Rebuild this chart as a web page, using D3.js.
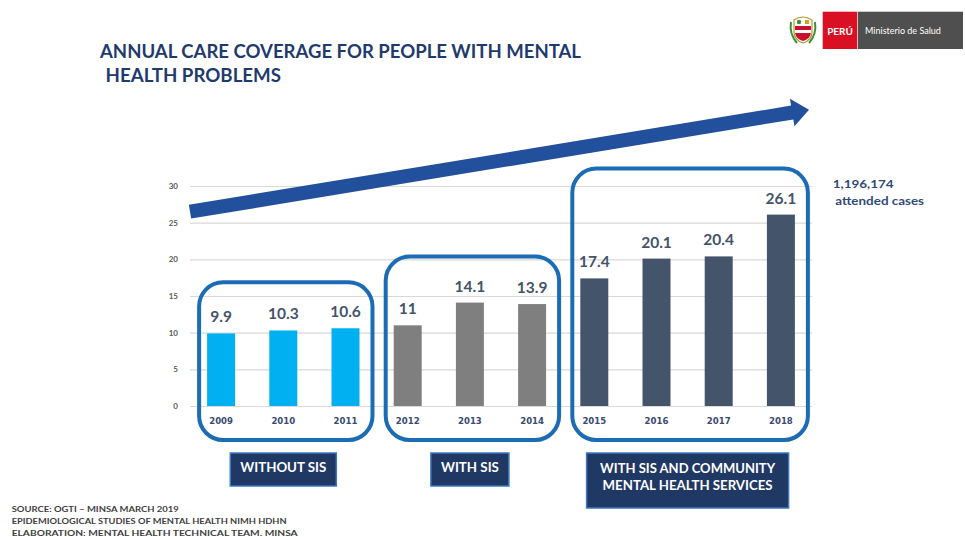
<!DOCTYPE html>
<html><head><meta charset="utf-8">
<script src="https://cdn.jsdelivr.net/npm/d3@7"></script>
<style>html,body{margin:0;padding:0;background:#fff;}svg{display:block;}</style>
</head><body>
<script>
// ---- data ----
const years = ['2009','2010','2011','2012','2013','2014','2015','2016','2017','2018'];
const values = [9.9, 10.3, 10.6, 11, 14.1, 13.9, 17.4, 20.1, 20.4, 26.1];
const valueLabels = ['9.9','10.3','10.6','11','14.1','13.9','17.4','20.1','20.4','26.1'];
const groupOf = [0,0,0,1,1,1,2,2,2,2];
const groupLabels = [['WITHOUT SIS'], ['WITH SIS'], ['WITH SIS AND COMMUNITY','MENTAL HEALTH SERVICES']];
const groupColors = ['#00b0f0', '#7f7f7f', '#44546a'];
const yTicks = [0, 5, 10, 15, 20, 25, 30];
const titleLines = ['ANNUAL CARE COVERAGE FOR PEOPLE WITH MENTAL', ' HEALTH PROBLEMS'];
const sourceLines = ['SOURCE: OGTI \u2013 MINSA MARCH 2019', 'EPIDEMIOLOGICAL STUDIES OF MENTAL HEALTH NIMH HDHN', 'ELABORATION: MENTAL HEALTH TECHNICAL TEAM. MINSA'];
const casesLines = ['1,196,174', ' attended cases'];

const W = 965, H = 537;
const FONT = 'Lato, "Open Sans", sans-serif';
const svg = d3.select('body').append('svg').attr('width', W).attr('height', H);

function fit(sel, w) { sel.attr('textLength', w).attr('lengthAdjust', 'spacingAndGlyphs'); return sel; }

const x = d3.scaleBand().domain(years).range([190, 812]).paddingInner(0.55).paddingOuter(0.275);
const y = d3.scaleLinear().domain([0, 30]).range([406, 186]);

// title
const titleWidths = [481, 174];
const titleX = [100, 101];
const titleY = [57.7, 82];
titleLines.forEach((t, i) => {
  fit(svg.append('text').attr('x', titleX[i]).attr('y', titleY[i])
    .attr('font-family', FONT).attr('font-weight', 700).attr('font-size', 18)
    .attr('fill', '#1f3b6e').style('white-space', 'pre').text(t), titleWidths[i] + (i ? 6 : 0));
});

// gridlines + y axis
const yAxis = d3.axisLeft(y).tickValues(yTicks).tickSize(-(812 - 190)).tickPadding(12);
const ga = svg.append('g').attr('transform', 'translate(190,0)').call(yAxis);
ga.select('.domain').remove();
ga.selectAll('.tick line').attr('stroke', '#d9d9d9').attr('stroke-width', 1.2);
ga.selectAll('.tick text').attr('font-family', FONT).attr('font-weight', 700)
  .attr('font-size', 8).attr('fill', '#595959');

// arrow (decorative trend arrow)
(function () {
  const x0 = 190, y0 = y(26.5), x1 = 809, y1 = y(40.4);
  const dx = x1 - x0, dy = y1 - y0, L = Math.hypot(dx, dy);
  const ux = dx / L, uy = dy / L, nx = -uy, ny = ux;
  const hw = 7, hh = 14, hl = 17;
  const bx = x1 - ux * hl, by = y1 - uy * hl;
  const pts = [
    [x0 + nx * hw, y0 + ny * hw], [bx + nx * hw, by + ny * hw], [bx + nx * hh, by + ny * hh],
    [x1, y1], [bx - nx * hh, by - ny * hh], [bx - nx * hw, by - ny * hw], [x0 - nx * hw, y0 - ny * hw]
  ];
  svg.append('path').attr('d', d3.line()(pts) + 'Z').attr('fill', '#23509c');
})();

// bars
svg.append('g').selectAll('rect').data(values).join('rect')
  .attr('x', (d, i) => x(years[i])).attr('width', x.bandwidth())
  .attr('y', d => y(d)).attr('height', d => y(0) - y(d))
  .attr('fill', (d, i) => groupColors[groupOf[i]]);

// value labels
svg.append('g').selectAll('text').data(values).join('text')
  .attr('x', (d, i) => x(years[i]) + x.bandwidth() / 2)
  .attr('y', d => y(d) - 11)
  .attr('text-anchor', 'middle').attr('font-family', FONT).attr('font-weight', 700)
  .attr('font-size', 15.5).attr('fill', '#44546a')
  .text((d, i) => valueLabels[i]);

// year labels
svg.append('g').selectAll('text').data(years).join('text')
  .attr('x', d => x(d) + x.bandwidth() / 2).attr('y', 423.5)
  .attr('text-anchor', 'middle').attr('font-family', '"Liberation Sans Narrow", "DejaVu Sans Condensed", sans-serif')
  .attr('font-weight', 700).attr('font-size', 9.5).attr('fill', '#3a4a70').text(d => d);

// group boxes
groupLabels.forEach((lines, g) => {
  const idx = groupOf.map((v, i) => v === g ? i : -1).filter(i => i >= 0);
  const first = years[idx[0]], last = years[idx[idx.length - 1]];
  const maxV = d3.max(idx, i => values[i]);
  const left = x(first) - 8, right = x(last) + x.bandwidth() + 13;
  const top = y(maxV) - 46, bottom = 440;
  svg.append('rect').attr('x', left).attr('y', top).attr('width', right - left)
    .attr('height', bottom - top).attr('rx', 24).attr('ry', 24)
    .attr('fill', 'none').attr('stroke', '#1c6cb5').attr('stroke-width', 4);

  // label box below
  const cx = (x(first) + x(last) + x.bandwidth()) / 2;
  const tmp = svg.append('g');
  const texts = lines.map((t, j) => tmp.append('text').attr('x', cx)
    .attr('y', 0).attr('text-anchor', 'middle').attr('font-family', FONT)
    .attr('font-weight', 700).attr('font-size', 13.5).attr('fill', '#fff').text(t));
  const targetW = [[86], [58], [175, 170]][g];
  const tw = d3.max(targetW);
  const bw = tw + (g === 2 ? 27 : 20);
  const bh = 11 + 22 * lines.length;
  const by = 453;
  tmp.insert('rect', 'text').attr('x', cx - bw / 2).attr('y', by).attr('width', bw).attr('height', bh)
    .attr('fill', '#1f3864').attr('stroke', '#3a78c0').attr('stroke-width', 1.5);
  texts.forEach((t, j) => {
    t.attr('y', lines.length === 1 ? by + 19 : by + 20 + 16.7 * j);
    fit(t, targetW[j]);
  });
});

// attended cases annotation
fit(svg.append('text').attr('x', 832.7).attr('y', 188).attr('font-family', FONT).attr('font-weight', 700)
  .attr('font-size', 11).attr('fill', '#2f4a7a').text(casesLines[0]), 61);
fit(svg.append('text').attr('x', 832).attr('y', 205).attr('font-family', FONT).attr('font-weight', 700)
  .attr('font-size', 11).attr('fill', '#2f4a7a').style('white-space', 'pre').text(casesLines[1]), 92);

// source
const srcW = [167, 275, 286];
sourceLines.forEach((t, i) => {
  fit(svg.append('text').attr('x', 11.7).attr('y', 511.5 + 12 * i).attr('font-family', FONT)
    .attr('font-weight', 700).attr('font-size', 8.3).attr('fill', '#404040').text(t), srcW[i]);
});

// logo
const logo = svg.append('g');
logo.append('rect').attr('x', 822.7).attr('y', 11.7).attr('width', 34.6).attr('height', 37.3).attr('fill', '#d91023');
logo.append('rect').attr('x', 858).attr('y', 11.7).attr('width', 105).attr('height', 37.3).attr('fill', '#4f4f4f');
logo.append('text').attr('x', 840).attr('y', 34.5).attr('text-anchor', 'middle').attr('font-family', FONT)
  .attr('font-weight', 700).attr('font-size', 10).attr('fill', '#fff').text('PERÚ');
logo.append('text').attr('x', 865).attr('y', 34).attr('font-family', FONT)
  .attr('font-size', 9).attr('fill', '#fff').text('Ministerio de Salud');
// emblem
const em = logo.append('g').attr('transform', 'translate(803,30)');
em.append('path').attr('d', 'M-9,-10 Q0,-16 9,-10 L9,2 Q9,10 0,13 Q-9,10 -9,2 Z').attr('fill', '#fff').attr('stroke', '#b8962e').attr('stroke-width', 1.2);
em.append('rect').attr('x', -8).attr('y', -4).attr('width', 16).attr('height', 4).attr('fill', '#c8102e');
em.append('path').attr('d', 'M-8,3 L8,3 Q7,9 0,11 Q-7,9 -8,3Z').attr('fill', '#c8102e');
em.append('circle').attr('cx', -4).attr('cy', -8).attr('r', 2.2).attr('fill', '#3b8f3b');
em.append('rect').attr('x', 2).attr('y', -10).attr('width', 4).attr('height', 4).attr('fill', '#d4a017');
em.append('path').attr('d', 'M-12,-8 Q-14,4 -6,13').attr('fill', 'none').attr('stroke', '#3b8f3b').attr('stroke-width', 2);
em.append('path').attr('d', 'M12,-8 Q14,4 6,13').attr('fill', 'none').attr('stroke', '#3b8f3b').attr('stroke-width', 2);
</script>
</body></html>
